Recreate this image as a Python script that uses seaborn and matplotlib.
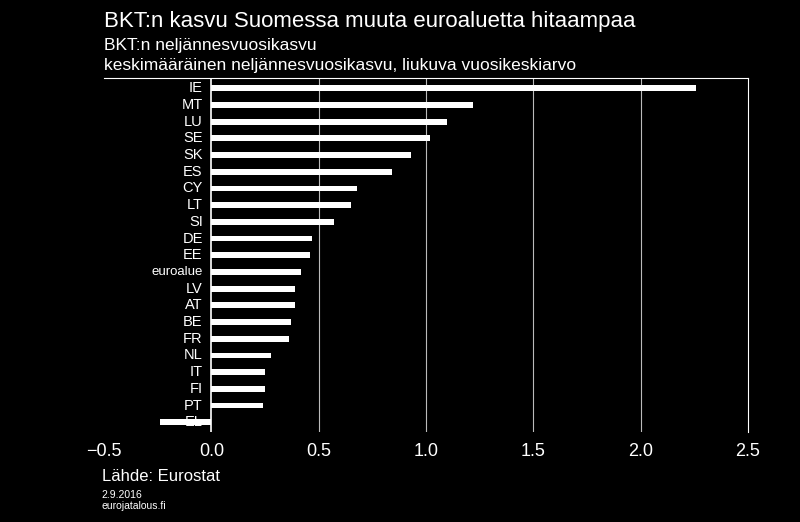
import matplotlib
matplotlib.use("Agg")
import matplotlib.pyplot as plt
import seaborn as sns
import pandas as pd

plt.rcParams["font.family"] = "Liberation Sans"

countries = ["IE","MT","LU","SE","SK","ES","CY","LT","SI","DE","EE","euroalue","LV","AT","BE","FR","NL","IT","FI","PT","EL"]
values = [2.26,1.22,1.10,1.02,0.93,0.84,0.68,0.65,0.57,0.47,0.46,0.42,0.39,0.39,0.37,0.36,0.28,0.25,0.25,0.24,-0.24]
df = pd.DataFrame({"maa": countries, "kasvu": values})

fig = plt.figure(figsize=(8, 5.22), dpi=100, facecolor="black")
ax = fig.add_axes([0.13, 0.172, 0.805, 0.678], facecolor="black")
sns.barplot(data=df, x="kasvu", y="maa", orient="h", color="white", width=0.35, ax=ax, saturation=1)
ax.set_xlim(-0.5, 2.5)
ax.set_ylim(len(countries) - 0.4, -0.6)
for v in [0.5, 1.0, 1.5, 2.0]:
    ax.axvline(v, color="#bbbbbb", lw=0.8, zorder=0)
ax.axvline(0, color="white", lw=1.2)
ax.set_yticks([])
ax.set_xlabel(""); ax.set_ylabel("")
for i, c in enumerate(countries):
    ax.text(-0.04, i, c, color="white", ha="right", va="center", fontsize=10.5 if c != "euroalue" else 9.5)
ax.set_xticks([-0.5, 0, 0.5, 1.0, 1.5, 2.0, 2.5])
ax.set_xticklabels(["\u22120.5", "0.0", "0.5", "1.0", "1.5", "2.0", "2.5"])
ax.tick_params(axis="x", colors="white", labelsize=13, length=0, pad=8)
for s in ["left", "bottom"]:
    ax.spines[s].set_visible(False)
for s in ["top", "right"]:
    ax.spines[s].set_color("white")
    ax.spines[s].set_linewidth(0.8)

fig.text(0.13, 0.958, "BKT:n kasvu Suomessa muuta euroaluetta hitaampaa", color="white", fontsize=16, va="center")
fig.text(0.13, 0.912, "BKT:n neljännesvuosikasvu", color="white", fontsize=12.5, va="center")
fig.text(0.13, 0.875, "keskimääräinen neljännesvuosikasvu, liukuva vuosikeskiarvo", color="white", fontsize=12.5, va="center")
fig.text(0.127, 0.088, "Lähde: Eurostat", color="white", fontsize=12, va="center")
fig.text(0.127, 0.052, "2.9.2016", color="white", fontsize=7.5, va="center")
fig.text(0.127, 0.030, "eurojatalous.fi", color="white", fontsize=7.5, va="center")
fig.savefig("out.png", dpi=100, facecolor="black")
